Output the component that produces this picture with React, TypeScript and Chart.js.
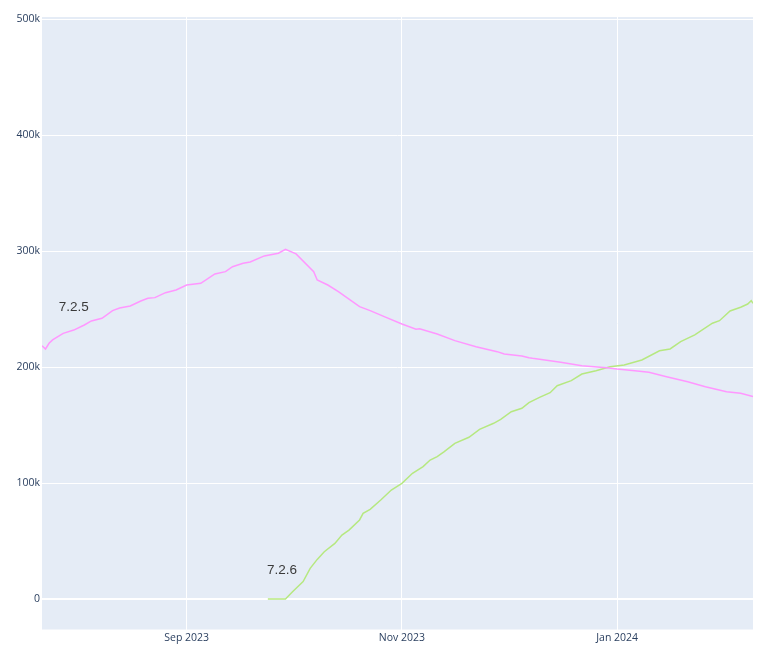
import React, { useEffect, useRef } from "react";
import { Chart, registerables } from "chart.js";

Chart.register(...registerables);

const pinkDates = [
  "2023-07-22", "2023-07-23", "2023-07-24", "2023-07-25", "2023-07-28", "2023-07-31",
  "2023-08-03", "2023-08-05", "2023-08-08", "2023-08-11", "2023-08-13", "2023-08-16",
  "2023-08-19", "2023-08-21", "2023-08-23", "2023-08-26", "2023-08-29", "2023-09-01",
  "2023-09-05", "2023-09-09", "2023-09-12", "2023-09-14", "2023-09-17", "2023-09-19",
  "2023-09-23", "2023-09-27", "2023-09-29", "2023-10-02", "2023-10-07", "2023-10-08",
  "2023-10-11", "2023-10-14", "2023-10-16", "2023-10-20", "2023-10-23", "2023-10-27",
  "2023-11-01", "2023-11-05", "2023-11-06", "2023-11-11", "2023-11-16", "2023-11-22",
  "2023-11-28", "2023-11-30", "2023-12-05", "2023-12-07", "2023-12-08", "2023-12-13",
  "2023-12-16", "2023-12-22", "2023-12-29", "2024-01-01", "2024-01-06", "2024-01-10",
  "2024-01-15", "2024-01-21", "2024-01-26", "2024-02-01", "2024-02-05", "2024-02-08T12:00:00Z",
];
const pinkValues = [
  218.5, 215.7, 220.6, 223.5, 229.2, 232,
  236.4, 239.9, 242.2, 248.8, 251.1, 252.8,
  257.1, 259.4, 260, 264.3, 266.6, 270.9,
  272.4, 280.4, 282.4, 286.7, 289.6, 290.8,
  296, 298.3, 301.7, 297.7, 282.4, 275.2,
  270.9, 265.1, 260.8, 252.2, 248.8, 243.6,
  237.3, 232.7, 233.2, 228.6, 222.9, 217.7,
  213.4, 211.4, 209.7, 208.2, 207.7, 205.6,
  204.2, 201.3, 199.6, 198.4, 197, 195.6,
  191.8, 187.5, 183.2, 178.9, 177.5, 174.6,
];

const greenDates = [
  "2023-09-24", "2023-09-29", "2023-10-01", "2023-10-04", "2023-10-06", "2023-10-08",
  "2023-10-10", "2023-10-13", "2023-10-15", "2023-10-17", "2023-10-20", "2023-10-21",
  "2023-10-23", "2023-10-26", "2023-10-29", "2023-11-01", "2023-11-04", "2023-11-07",
  "2023-11-09", "2023-11-11", "2023-11-13", "2023-11-16", "2023-11-20", "2023-11-23",
  "2023-11-27", "2023-11-29", "2023-12-02", "2023-12-05", "2023-12-07", "2023-12-10",
  "2023-12-13", "2023-12-15", "2023-12-19", "2023-12-22", "2023-12-26", "2023-12-30",
  "2024-01-03", "2024-01-08", "2024-01-13", "2024-01-16", "2024-01-19", "2024-01-23",
  "2024-01-28", "2024-01-30", "2024-02-02", "2024-02-05", "2024-02-07", "2024-02-08",
  "2024-02-08T12:00:00Z",
];
const greenValues = [
  0, 0, 6.3, 15, 26.5, 34.2,
  40.8, 48, 55.2, 59.5, 68.2, 73.9,
  77.4, 85.4, 94, 99.8, 108.5, 114.2,
  119.9, 122.9, 127.1, 134.3, 139.5, 146.4,
  151.6, 155, 161.6, 164.5, 169.4, 174,
  178, 184, 188.4, 194.1, 197, 200.4,
  201.9, 206.2, 214.2, 215.7, 222, 227.8,
  237.9, 240.1, 248.5, 251.7, 254.5, 257.4,
  255.1,
];

const seriesNames = ["7.2.5", "7.2.6"];

const annLabels = ["7.2.5", "7.2.6"];
const annDates = ["2023-07-31", "2023-09-28"];
const annValues = [252000, 25000];

const xTickDates = ["2023-09-01", "2023-11-01", "2024-01-01"];
const xTickLabels = ["Sep 2023", "Nov 2023", "Jan 2024"];
const yTickValues = [0, 100000, 200000, 300000, 400000, 500000];
const yTickLabels = ["0", "100k", "200k", "300k", "400k", "500k"];

const xMin = "2023-07-22";
const xMax = "2024-02-08T12:00:00Z";
const yMin = -26300;
const yMax = 502100;

const toPoints = (dates: string[], vals: number[]) =>
  dates.map((d, i) => ({ x: Date.parse(d), y: vals[i] * 1000 }));

const bgPlugin = {
  id: "plotBg",
  beforeDraw(chart: any) {
    const { ctx, chartArea } = chart;
    ctx.save();
    ctx.fillStyle = "#E5ECF6";
    ctx.fillRect(chartArea.left, chartArea.top, chartArea.right - chartArea.left, chartArea.bottom - chartArea.top);
    ctx.restore();
  },
};

const annPlugin = {
  id: "annTexts",
  afterDatasetsDraw(chart: any) {
    const { ctx, scales } = chart;
    ctx.save();
    ctx.font = "13.5px 'Liberation Sans', Arial, sans-serif";
    ctx.fillStyle = "#3a3a3a";
    ctx.textAlign = "center";
    ctx.textBaseline = "middle";
    annLabels.forEach((t, i) => {
      const x = scales.x.getPixelForValue(Date.parse(annDates[i]));
      const y = scales.y.getPixelForValue(annValues[i]);
      ctx.fillText(t, x, y);
    });
    ctx.restore();
  },
};

export default function App() {
  const ref = useRef<HTMLCanvasElement>(null);
  useEffect(() => {
    if (!ref.current) return;
    const tickFont = { family: "'Open Sans', sans-serif", size: 10.5 };
    const chart = new Chart(ref.current, {
      type: "line",
      data: {
        datasets: [
          {
            label: seriesNames[0],
            data: toPoints(pinkDates, pinkValues),
            borderColor: "#FF97FF",
            backgroundColor: "#FF97FF",
            borderWidth: 1.5,
            pointRadius: 0,
            tension: 0,
          },
          {
            label: seriesNames[1],
            data: toPoints(greenDates, greenValues),
            borderColor: "#B6E880",
            backgroundColor: "#B6E880",
            borderWidth: 1.5,
            pointRadius: 0,
            tension: 0,
          },
        ],
      },
      options: {
        responsive: false,
        animation: false,
        layout: { padding: { left: 0, top: 17, right: 19, bottom: 0 } },
        plugins: {
          legend: { display: false },
          tooltip: { enabled: false },
        },
        scales: {
          x: {
            type: "linear",
            min: Date.parse(xMin),
            max: Date.parse(xMax),
            grid: { color: "#ffffff", lineWidth: 1, drawTicks: false },
            border: { display: false },
            afterBuildTicks: (axis: any) => {
              axis.ticks = xTickDates.map((d) => ({ value: Date.parse(d) }));
            },
            afterFit: (axis: any) => {
              axis.height = 22.5;
            },
            ticks: {
              padding: 2,
              color: "#2a3f5f",
              font: tickFont,
              maxRotation: 0,
              autoSkip: false,
              callback: (v: any) => {
                const i = xTickDates.findIndex((d) => Date.parse(d) === v);
                return i >= 0 ? xTickLabels[i] : "";
              },
            },
          },
          y: {
            type: "linear",
            min: yMin,
            max: yMax,
            grid: {
              color: "#ffffff",
              lineWidth: (c: any) => (c.tick && c.tick.value === 0 ? 2 : 1),
              drawTicks: false,
            },
            border: { display: false },
            afterBuildTicks: (axis: any) => {
              axis.ticks = yTickValues.map((v) => ({ value: v }));
            },
            afterFit: (axis: any) => {
              axis.width = 42;
            },
            ticks: {
              padding: 2,
              color: "#2a3f5f",
              font: tickFont,
              callback: (v: any) => {
                const i = yTickValues.indexOf(v);
                return i >= 0 ? yTickLabels[i] : "";
              },
            },
          },
        },
      },
      plugins: [bgPlugin, annPlugin],
    });
    return () => chart.destroy();
  }, []);
  return (
    <div style={{ position: "absolute", left: 0, top: 0, width: 772, height: 652, background: "#fff" }}>
      <canvas ref={ref} width={772} height={652} style={{ display: "block" }} />
    </div>
  );
}
